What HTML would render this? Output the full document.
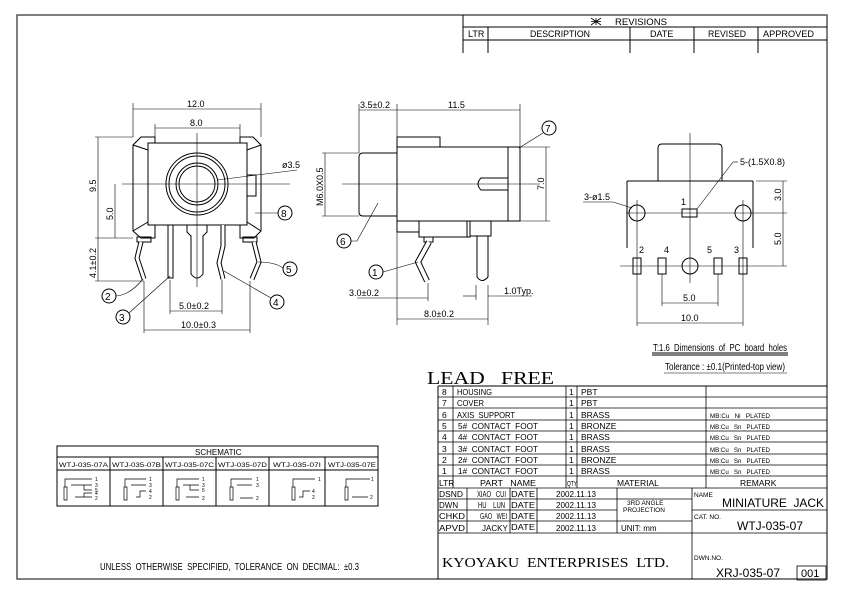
<!DOCTYPE html>
<html><head><meta charset="utf-8"><style>
html,body{margin:0;padding:0;background:#fff;}
svg{display:block;}
text{font-family:"Liberation Sans",sans-serif;fill:#000;white-space:pre;}
</style></head><body>
<svg width="842" height="595" viewBox="0 0 842 595" xmlns="http://www.w3.org/2000/svg" xml:space="preserve">
<g fill="none" stroke="#000" stroke-width="1">
<rect x="17" y="15" width="810" height="564" stroke-width="1.5" stroke="#555"/>
<line x1="463" y1="15" x2="463" y2="53"/>
<line x1="463" y1="27" x2="827" y2="27"/>
<line x1="463" y1="40" x2="827" y2="40"/>
<line x1="488" y1="27" x2="488" y2="53"/>
<line x1="630" y1="27" x2="630" y2="53"/>
<line x1="694" y1="27" x2="694" y2="53"/>
<line x1="758" y1="27" x2="758" y2="53"/>
<path d="M591 18 L601 25 M601 18 L591 25 M596 18 L596 25 M591 21.5 L601 21.5" stroke-width=".8"/>

<line x1="133" y1="103" x2="133" y2="137" stroke-width=".6"/>
<line x1="261" y1="103" x2="261" y2="137" stroke-width=".6"/>
<line x1="133" y1="109" x2="261" y2="109" stroke-width=".6"/>
<line x1="155" y1="124" x2="155" y2="143" stroke-width=".6"/>
<line x1="240" y1="124" x2="240" y2="143" stroke-width=".6"/>
<line x1="155" y1="128" x2="240" y2="128" stroke-width=".6"/>
<polygon points="141,137 155,137 155,143 240,143 240,137 253,137 261,145 261,231 254,238 240,238 240,225 155,225 155,238 141,238 133,231 133,145"/>
<rect x="148" y="143" width="99" height="82"/>
<line x1="133" y1="145" x2="148" y2="150"/><line x1="261" y1="145" x2="247" y2="150"/>
<line x1="133" y1="231" x2="148" y2="222"/><line x1="261" y1="231" x2="247" y2="222"/>
<path d="M247 175 L256 175 L256 196 L247 196"/>
<circle cx="197" cy="184" r="31"/><circle cx="197" cy="184" r="28"/>
<circle cx="197" cy="184" r="21"/><circle cx="197" cy="184" r="18"/>
<line x1="122" y1="184" x2="290" y2="184" stroke-width=".6"/>
<line x1="197" y1="133" x2="197" y2="287" stroke-width=".6"/>
<line x1="95" y1="137" x2="133" y2="137" stroke-width=".6"/>
<line x1="95" y1="238" x2="133" y2="238" stroke-width=".6"/>
<line x1="98" y1="137" x2="98" y2="281" stroke-width=".6"/>
<line x1="115" y1="184" x2="115" y2="238" stroke-width=".6"/>
<line x1="95" y1="281" x2="144" y2="281" stroke-width=".6"/>
<rect x="137" y="237" width="14" height="5"/>
<rect x="243" y="237" width="14" height="5"/>
<polyline points="141,242 137,258 144,279" stroke-width="5"/>
<polyline points="141,242 137,258 144,279" stroke-width="3" stroke="#fff"/>
<polyline points="254,242 259,262 252,279" stroke-width="5"/>
<polyline points="254,242 259,262 252,279" stroke-width="3" stroke="#fff"/>
<rect x="168" y="225" width="5" height="53"/>
<path d="M187 225 L187 232 L191 236 L191 274 Q197 282 203 274 L203 236 L207 232 L207 225"/>
<polyline points="223,225 223,246 219,263 223,279" stroke-width="5"/>
<polyline points="223,225 223,246 219,263 223,279" stroke-width="3" stroke="#fff"/>
<line x1="170" y1="280" x2="170" y2="314" stroke-width=".6"/>
<line x1="222" y1="280" x2="222" y2="314" stroke-width=".6"/>
<line x1="170" y1="311" x2="222" y2="311" stroke-width=".6"/>
<line x1="144" y1="281" x2="144" y2="333" stroke-width=".6"/>
<line x1="250" y1="281" x2="250" y2="333" stroke-width=".6"/>
<line x1="144" y1="330" x2="250" y2="330" stroke-width=".6"/>
<line x1="217" y1="180" x2="297" y2="170" stroke-width=".6"/>
<circle cx="285" cy="213" r="7"/><line x1="255" y1="213" x2="278" y2="213" stroke-width=".6"/>
<circle cx="290" cy="269" r="7"/><path d="M258 262 Q275 262 283 268" stroke-width=".6"/>
<circle cx="277" cy="302" r="7"/><line x1="224" y1="271" x2="271" y2="298" stroke-width=".6"/>
<circle cx="123" cy="317" r="7"/><line x1="170" y1="276" x2="129" y2="313" stroke-width=".6"/>
<circle cx="109" cy="296" r="7"/><path d="M116 296 Q130 295 143 279" stroke-width=".6"/>

<line x1="359" y1="104" x2="359" y2="153" stroke-width=".6"/>
<line x1="397" y1="104" x2="397" y2="325" stroke-width=".6"/>
<line x1="520" y1="104" x2="520" y2="147" stroke-width=".6"/>
<line x1="359" y1="110" x2="520" y2="110" stroke-width=".6"/>
<path d="M397 147 L397 137 L440 137 L440 147"/>
<rect x="397" y="147" width="123" height="74"/>
<path d="M397 153 L363 153 Q359 153 359 157 L359 212 Q359 216 363 216 L397 216"/>
<line x1="508" y1="147" x2="508" y2="221"/>
<path d="M508 178 L481 178 Q475 184 481 190 L508 190"/>
<line x1="342" y1="184" x2="540" y2="184" stroke-width=".6"/>
<line x1="520" y1="147" x2="550" y2="147" stroke-width=".6"/>
<line x1="520" y1="221" x2="550" y2="221" stroke-width=".6"/>
<line x1="546" y1="147" x2="546" y2="221" stroke-width=".6"/>
<line x1="322" y1="153" x2="359" y2="153" stroke-width=".6"/>
<line x1="322" y1="216" x2="359" y2="216" stroke-width=".6"/>
<line x1="325" y1="153" x2="325" y2="216" stroke-width=".6"/>
<path d="M397 221 L397 232 L419 232 L419 221"/>
<path d="M419 232 L419 237 L467 237 L467 221"/>
<path d="M467 221 L467 237 L470 237 L470 221 M470 236 L491 236 L491 221"/>
<path d="M477 236 L477 277 Q482 284 488 277 L488 236"/>
<rect x="424" y="237" width="9" height="5"/>
<polyline points="429,242 418,262 427,281" stroke-width="6"/>
<polyline points="429,242 418,262 427,281" stroke-width="4" stroke="#fff"/>
<circle cx="549" cy="128" r="7"/><line x1="543" y1="133" x2="519" y2="148" stroke-width=".6"/>
<circle cx="344" cy="241" r="7"/><path d="M351 241 L357 241 L378 203" stroke-width=".6"/>
<circle cx="376" cy="272" r="7"/><line x1="383" y1="272" x2="418" y2="262" stroke-width=".6"/>
<line x1="428" y1="283" x2="428" y2="301" stroke-width=".6"/>
<line x1="357" y1="298" x2="428" y2="298" stroke-width=".6"/>
<line x1="476" y1="285" x2="476" y2="300" stroke-width=".6"/>
<line x1="488" y1="285" x2="488" y2="325" stroke-width=".6"/>
<line x1="463" y1="296" x2="476" y2="296" stroke-width=".6"/>
<line x1="488" y1="296" x2="532" y2="296" stroke-width=".6"/>
<line x1="397" y1="319" x2="488" y2="319" stroke-width=".6"/>

<path d="M658 181 L658 148 Q658 144 662 144 L718 144 Q722 144 722 148 L722 181"/>
<line x1="627" y1="181" x2="753" y2="181"/>
<line x1="627" y1="181" x2="627" y2="248"/>
<line x1="753" y1="181" x2="753" y2="248"/>
<line x1="756" y1="181" x2="787" y2="181" stroke-width=".6"/>
<line x1="690" y1="133" x2="690" y2="283" stroke-width=".6"/>
<line x1="626" y1="213" x2="787" y2="213" stroke-width=".6"/>
<line x1="620" y1="266" x2="787" y2="266" stroke-width=".6"/>
<circle cx="637" cy="213" r="8"/><circle cx="743" cy="213" r="8"/>
<line x1="637" y1="200" x2="637" y2="326" stroke-width=".6"/>
<line x1="743" y1="200" x2="743" y2="326" stroke-width=".6"/>
<rect x="682" y="209" width="15" height="8"/>
<rect x="633" y="258" width="8" height="16"/>
<rect x="658" y="258" width="8" height="16"/>
<rect x="714" y="258" width="8" height="16"/>
<rect x="739" y="258" width="8" height="16"/>
<circle cx="690" cy="266" r="8"/>
<line x1="662" y1="274" x2="662" y2="306" stroke-width=".6"/>
<line x1="718" y1="274" x2="718" y2="306" stroke-width=".6"/>
<line x1="662" y1="303" x2="718" y2="303" stroke-width=".6"/>
<line x1="637" y1="323" x2="743" y2="323" stroke-width=".6"/>
<line x1="783" y1="181" x2="783" y2="266" stroke-width=".6"/>
<line x1="583" y1="202" x2="613" y2="202" stroke-width=".6"/>
<line x1="613" y1="202" x2="632" y2="208" stroke-width=".6"/>
<line x1="697" y1="209" x2="733" y2="162" stroke-width=".6"/>
<line x1="733" y1="162" x2="738" y2="162" stroke-width=".6"/>
<line x1="652" y1="353" x2="788" y2="353"/>
<line x1="652" y1="355" x2="788" y2="355"/>
<line x1="664" y1="373" x2="787" y2="373" stroke-width=".6"/>

<rect x="57" y="446" width="321" height="60"/>
<line x1="57" y1="457" x2="378" y2="457"/>
<line x1="57" y1="470" x2="378" y2="470"/>
<line x1="110" y1="457" x2="110" y2="506"/>
<line x1="163" y1="457" x2="163" y2="506"/>
<line x1="216" y1="457" x2="216" y2="506"/>
<line x1="269" y1="457" x2="269" y2="506"/>
<line x1="325" y1="457" x2="325" y2="506"/>
<g stroke-width=".7">
<path d="M64 487 L64 500 L67 500 L67 487 Z M65 487 L65 479 L92 479"/>
<path d="M71 485 L92 485 M84 485 L84 490 L92 490 M75 497 L92 497 M84 497 L84 493 L92 493"/>
<path d="M124 487 L124 500 L127 500 L127 487 Z M125 487 L125 479 L146 479 M131 485 L146 485 M136 497 L140 497 L140 491 L146 491"/>
<path d="M176 487 L176 500 L179 500 L179 487 Z M177 487 L177 479 L199 479 M183 485 L199 485 M190 485 L190 490 L199 490 M186 497 L199 497"/>
<path d="M230 487 L230 500 L233 500 L233 487 Z M231 487 L231 479 L252 479 M237 485 L252 485 M240 498 L253 498"/>
<path d="M292 487 L292 500 L295 500 L295 487 Z M293 487 L293 479 L315 479 M299 497 L303 497 L303 491 L310 491"/>
<path d="M345 487 L345 500 L348 500 L348 487 Z M346 487 L346 479 L370 479 M352 497 L368 497"/>
</g>

<line x1="438" y1="386" x2="827" y2="386"/>
<line x1="438" y1="386" x2="438" y2="579"/>
<g stroke-width=".8">
<line x1="438" y1="397" x2="827" y2="397"/><line x1="438" y1="408" x2="827" y2="408"/>
<line x1="438" y1="420" x2="827" y2="420"/><line x1="438" y1="431" x2="827" y2="431"/>
<line x1="438" y1="442" x2="827" y2="442"/><line x1="438" y1="454" x2="827" y2="454"/>
<line x1="438" y1="465" x2="827" y2="465"/><line x1="438" y1="476" x2="827" y2="476"/>
<line x1="438" y1="488" x2="827" y2="488"/><line x1="438" y1="499" x2="692" y2="499"/>
<line x1="438" y1="510" x2="617" y2="510"/><line x1="692" y1="510" x2="827" y2="510"/>
<line x1="438" y1="521" x2="692" y2="521"/><line x1="438" y1="533" x2="827" y2="533"/>
<line x1="453" y1="386" x2="453" y2="488"/><line x1="566" y1="386" x2="566" y2="488"/>
<line x1="577" y1="386" x2="577" y2="488"/><line x1="706" y1="386" x2="706" y2="488"/>
<line x1="467" y1="488" x2="467" y2="533"/><line x1="510" y1="488" x2="510" y2="533"/>
<line x1="537" y1="488" x2="537" y2="533"/><line x1="617" y1="488" x2="617" y2="533"/>
<line x1="692" y1="488" x2="692" y2="579"/>
<rect x="797" y="566" width="29" height="14"/>
</g>
</g>

<g font-size="9">
<text x="615" y="25" textLength="52" lengthAdjust="spacingAndGlyphs">REVISIONS</text>
<text x="468" y="37">LTR</text>
<text x="530" y="37" textLength="60" lengthAdjust="spacingAndGlyphs">DESCRIPTION</text>
<text x="650" y="37">DATE</text>
<text x="708" y="37" textLength="38" lengthAdjust="spacingAndGlyphs">REVISED</text>
<text x="763" y="37" textLength="51" lengthAdjust="spacingAndGlyphs">APPROVED</text>

<text x="187" y="107">12.0</text>
<text x="190" y="126">8.0</text>
<text x="282" y="168">ø3.5</text>
<text transform="translate(96,192) rotate(-90)">9.5</text>
<text transform="translate(113,220) rotate(-90)">5.0</text>
<text transform="translate(96,278) rotate(-90)">4.1±0.2</text>
<text x="179" y="309">5.0±0.2</text>
<text x="181" y="328">10.0±0.3</text>
<text x="281" y="217" font-size="10">8</text>
<text x="286" y="273" font-size="10">5</text>
<text x="273" y="306" font-size="10">4</text>
<text x="119" y="321" font-size="10">3</text>
<text x="105" y="300" font-size="10">2</text>

<text x="360" y="108">3.5±0.2</text>
<text x="448" y="108">11.5</text>
<text transform="translate(323,206) rotate(-90)">M6.0X0.5</text>
<text transform="translate(544,190) rotate(-90)">7.0</text>
<text x="545" y="132" font-size="10">7</text>
<text x="340" y="245" font-size="10">6</text>
<text x="372" y="276" font-size="10">1</text>
<text x="349" y="296">3.0±0.2</text>
<text x="504" y="294">1.0Typ.</text>
<text x="424" y="317">8.0±0.2</text>

<text x="740" y="165">5-(1.5X0.8)</text>
<text x="584" y="200">3-ø1.5</text>
<text x="681" y="205">1</text>
<text x="639" y="253">2</text>
<text x="664" y="253">4</text>
<text x="707" y="253">5</text>
<text x="734" y="253">3</text>
<text transform="translate(781,201) rotate(-90)">3.0</text>
<text transform="translate(781,245) rotate(-90)">5.0</text>
<text x="683" y="301">5.0</text>
<text x="681" y="321">10.0</text>
<text x="653" y="351" font-size="10" textLength="134" lengthAdjust="spacingAndGlyphs">T:1.6  Dimensions  of  PC  board  holes</text>
<text x="665" y="370" font-size="10" textLength="120" lengthAdjust="spacingAndGlyphs">Tolerance : ±0.1(Printed-top view)</text>

<text x="427" y="384" font-size="18" style="font-family:'Liberation Serif',serif" textLength="127" lengthAdjust="spacingAndGlyphs">LEAD   FREE</text>

<text x="195" y="455" font-size="8">SCHEMATIC</text>
<g font-size="6.5">
<text x="59" y="467" textLength="49" lengthAdjust="spacingAndGlyphs">WTJ-035-07A</text>
<text x="112" y="467" textLength="49" lengthAdjust="spacingAndGlyphs">WTJ-035-07B</text>
<text x="165" y="467" textLength="49" lengthAdjust="spacingAndGlyphs">WTJ-035-07C</text>
<text x="218" y="467" textLength="49" lengthAdjust="spacingAndGlyphs">WTJ-035-07D</text>
<text x="273" y="467" textLength="48" lengthAdjust="spacingAndGlyphs">WTJ-035-07I</text>
<text x="328" y="467" textLength="48" lengthAdjust="spacingAndGlyphs">WTJ-035-07E</text>
</g>
<g font-size="5">
<text x="95" y="481">1</text><text x="95" y="487">3</text><text x="95" y="492">5</text><text x="95" y="495">4</text><text x="95" y="500">2</text>
<text x="149" y="481">1</text><text x="149" y="487">3</text><text x="149" y="493">4</text><text x="149" y="499">2</text>
<text x="202" y="481">1</text><text x="202" y="487">3</text><text x="202" y="492">5</text><text x="202" y="500">2</text>
<text x="256" y="481">1</text><text x="256" y="487">3</text><text x="256" y="500">2</text>
<text x="318" y="481">1</text><text x="312" y="493">4</text><text x="312" y="499">2</text>
<text x="371" y="481">1</text><text x="370" y="499">2</text>
</g>

<text x="100" y="570" font-size="10" textLength="259" lengthAdjust="spacingAndGlyphs">UNLESS  OTHERWISE  SPECIFIED,  TOLERANCE  ON  DECIMAL:  ±0.3</text>

<g font-size="8.5">
<text x="442" y="395">8</text><text x="457" y="395" textLength="35" lengthAdjust="spacingAndGlyphs">HOUSING</text><text x="569" y="395">1</text><text x="581" y="395">PBT</text>
<text x="442" y="406">7</text><text x="457" y="406" textLength="27" lengthAdjust="spacingAndGlyphs">COVER</text><text x="569" y="406">1</text><text x="581" y="406">PBT</text>
<text x="442" y="418">6</text><text x="457" y="418" textLength="58" lengthAdjust="spacingAndGlyphs">AXIS  SUPPORT</text><text x="569" y="418">1</text><text x="581" y="418">BRASS</text>
<text x="442" y="429">5</text><text x="458" y="429" textLength="80" lengthAdjust="spacingAndGlyphs">5#  CONTACT  FOOT</text><text x="569" y="429">1</text><text x="581" y="429">BRONZE</text>
<text x="442" y="440">4</text><text x="458" y="440" textLength="80" lengthAdjust="spacingAndGlyphs">4#  CONTACT  FOOT</text><text x="569" y="440">1</text><text x="581" y="440">BRASS</text>
<text x="442" y="452">3</text><text x="458" y="452" textLength="80" lengthAdjust="spacingAndGlyphs">3#  CONTACT  FOOT</text><text x="569" y="452">1</text><text x="581" y="452">BRASS</text>
<text x="442" y="463">2</text><text x="458" y="463" textLength="80" lengthAdjust="spacingAndGlyphs">2#  CONTACT  FOOT</text><text x="569" y="463">1</text><text x="581" y="463">BRONZE</text>
<text x="442" y="474">1</text><text x="458" y="474" textLength="80" lengthAdjust="spacingAndGlyphs">1#  CONTACT  FOOT</text><text x="569" y="474">1</text><text x="581" y="474">BRASS</text>
<text x="439" y="486">LTR</text><text x="480" y="486" textLength="56" lengthAdjust="spacingAndGlyphs">PART   NAME</text><text x="567" y="486" font-size="7" textLength="10" lengthAdjust="spacingAndGlyphs">QTY</text><text x="617" y="486">MATERIAL</text><text x="740" y="486">REMARK</text>
</g>
<g font-size="6.5">
<text x="710" y="418" textLength="60" lengthAdjust="spacingAndGlyphs">MB:Cu   Ni   PLATED</text>
<text x="710" y="429" textLength="60" lengthAdjust="spacingAndGlyphs">MB:Cu   Sn   PLATED</text>
<text x="710" y="440" textLength="60" lengthAdjust="spacingAndGlyphs">MB:Cu   Sn   PLATED</text>
<text x="710" y="452" textLength="60" lengthAdjust="spacingAndGlyphs">MB:Cu   Sn   PLATED</text>
<text x="710" y="463" textLength="60" lengthAdjust="spacingAndGlyphs">MB:Cu   Sn   PLATED</text>
<text x="710" y="474" textLength="60" lengthAdjust="spacingAndGlyphs">MB:Cu   Sn   PLATED</text>
</g>
<g font-size="8">
<text x="439" y="497" textLength="24" lengthAdjust="spacingAndGlyphs">DSND</text><text x="477" y="497" textLength="29" lengthAdjust="spacingAndGlyphs">XIAO   CUI</text><text x="511" y="497" textLength="24" lengthAdjust="spacingAndGlyphs">DATE</text><text x="556" y="497" textLength="40" lengthAdjust="spacingAndGlyphs">2002.11.13</text>
<text x="439" y="508">DWN</text><text x="478" y="508" textLength="27" lengthAdjust="spacingAndGlyphs">HU    LUN</text><text x="511" y="508" textLength="24" lengthAdjust="spacingAndGlyphs">DATE</text><text x="556" y="508" textLength="40" lengthAdjust="spacingAndGlyphs">2002.11.13</text>
<text x="439" y="519" textLength="26" lengthAdjust="spacingAndGlyphs">CHKD</text><text x="480" y="519" textLength="27" lengthAdjust="spacingAndGlyphs">GAO   WEI</text><text x="511" y="519" textLength="24" lengthAdjust="spacingAndGlyphs">DATE</text><text x="556" y="519" textLength="40" lengthAdjust="spacingAndGlyphs">2002.11.13</text>
<text x="439" y="531" textLength="26" lengthAdjust="spacingAndGlyphs">APVD</text><text x="482" y="531">JACKY</text><text x="511" y="530" textLength="24" lengthAdjust="spacingAndGlyphs">DATE</text><text x="556" y="531" textLength="40" lengthAdjust="spacingAndGlyphs">2002.11.13</text>
<text x="621" y="531">UNIT: mm</text>
</g>
<text x="627" y="505" font-size="6.5">3RD ANGLE</text>
<text x="623" y="512" font-size="6.5">PROJECTION</text>
<text x="694" y="497" font-size="6.5">NAME</text>
<text x="722" y="507" font-size="12" textLength="102" lengthAdjust="spacingAndGlyphs">MINIATURE  JACK</text>
<text x="694" y="519" font-size="6.5">CAT. NO.</text>
<text x="737" y="530" font-size="12">WTJ-035-07</text>
<text x="694" y="560" font-size="6.5">DWN.NO.</text>
<text x="716" y="577" font-size="12">XRJ-035-07</text>
<text x="801" y="577" font-size="11">001</text>
<text x="442" y="567" font-size="14" style="font-family:'Liberation Serif',serif" textLength="227" lengthAdjust="spacingAndGlyphs">KYOYAKU  ENTERPRISES  LTD.</text>
</g>
</svg>
</body></html>
